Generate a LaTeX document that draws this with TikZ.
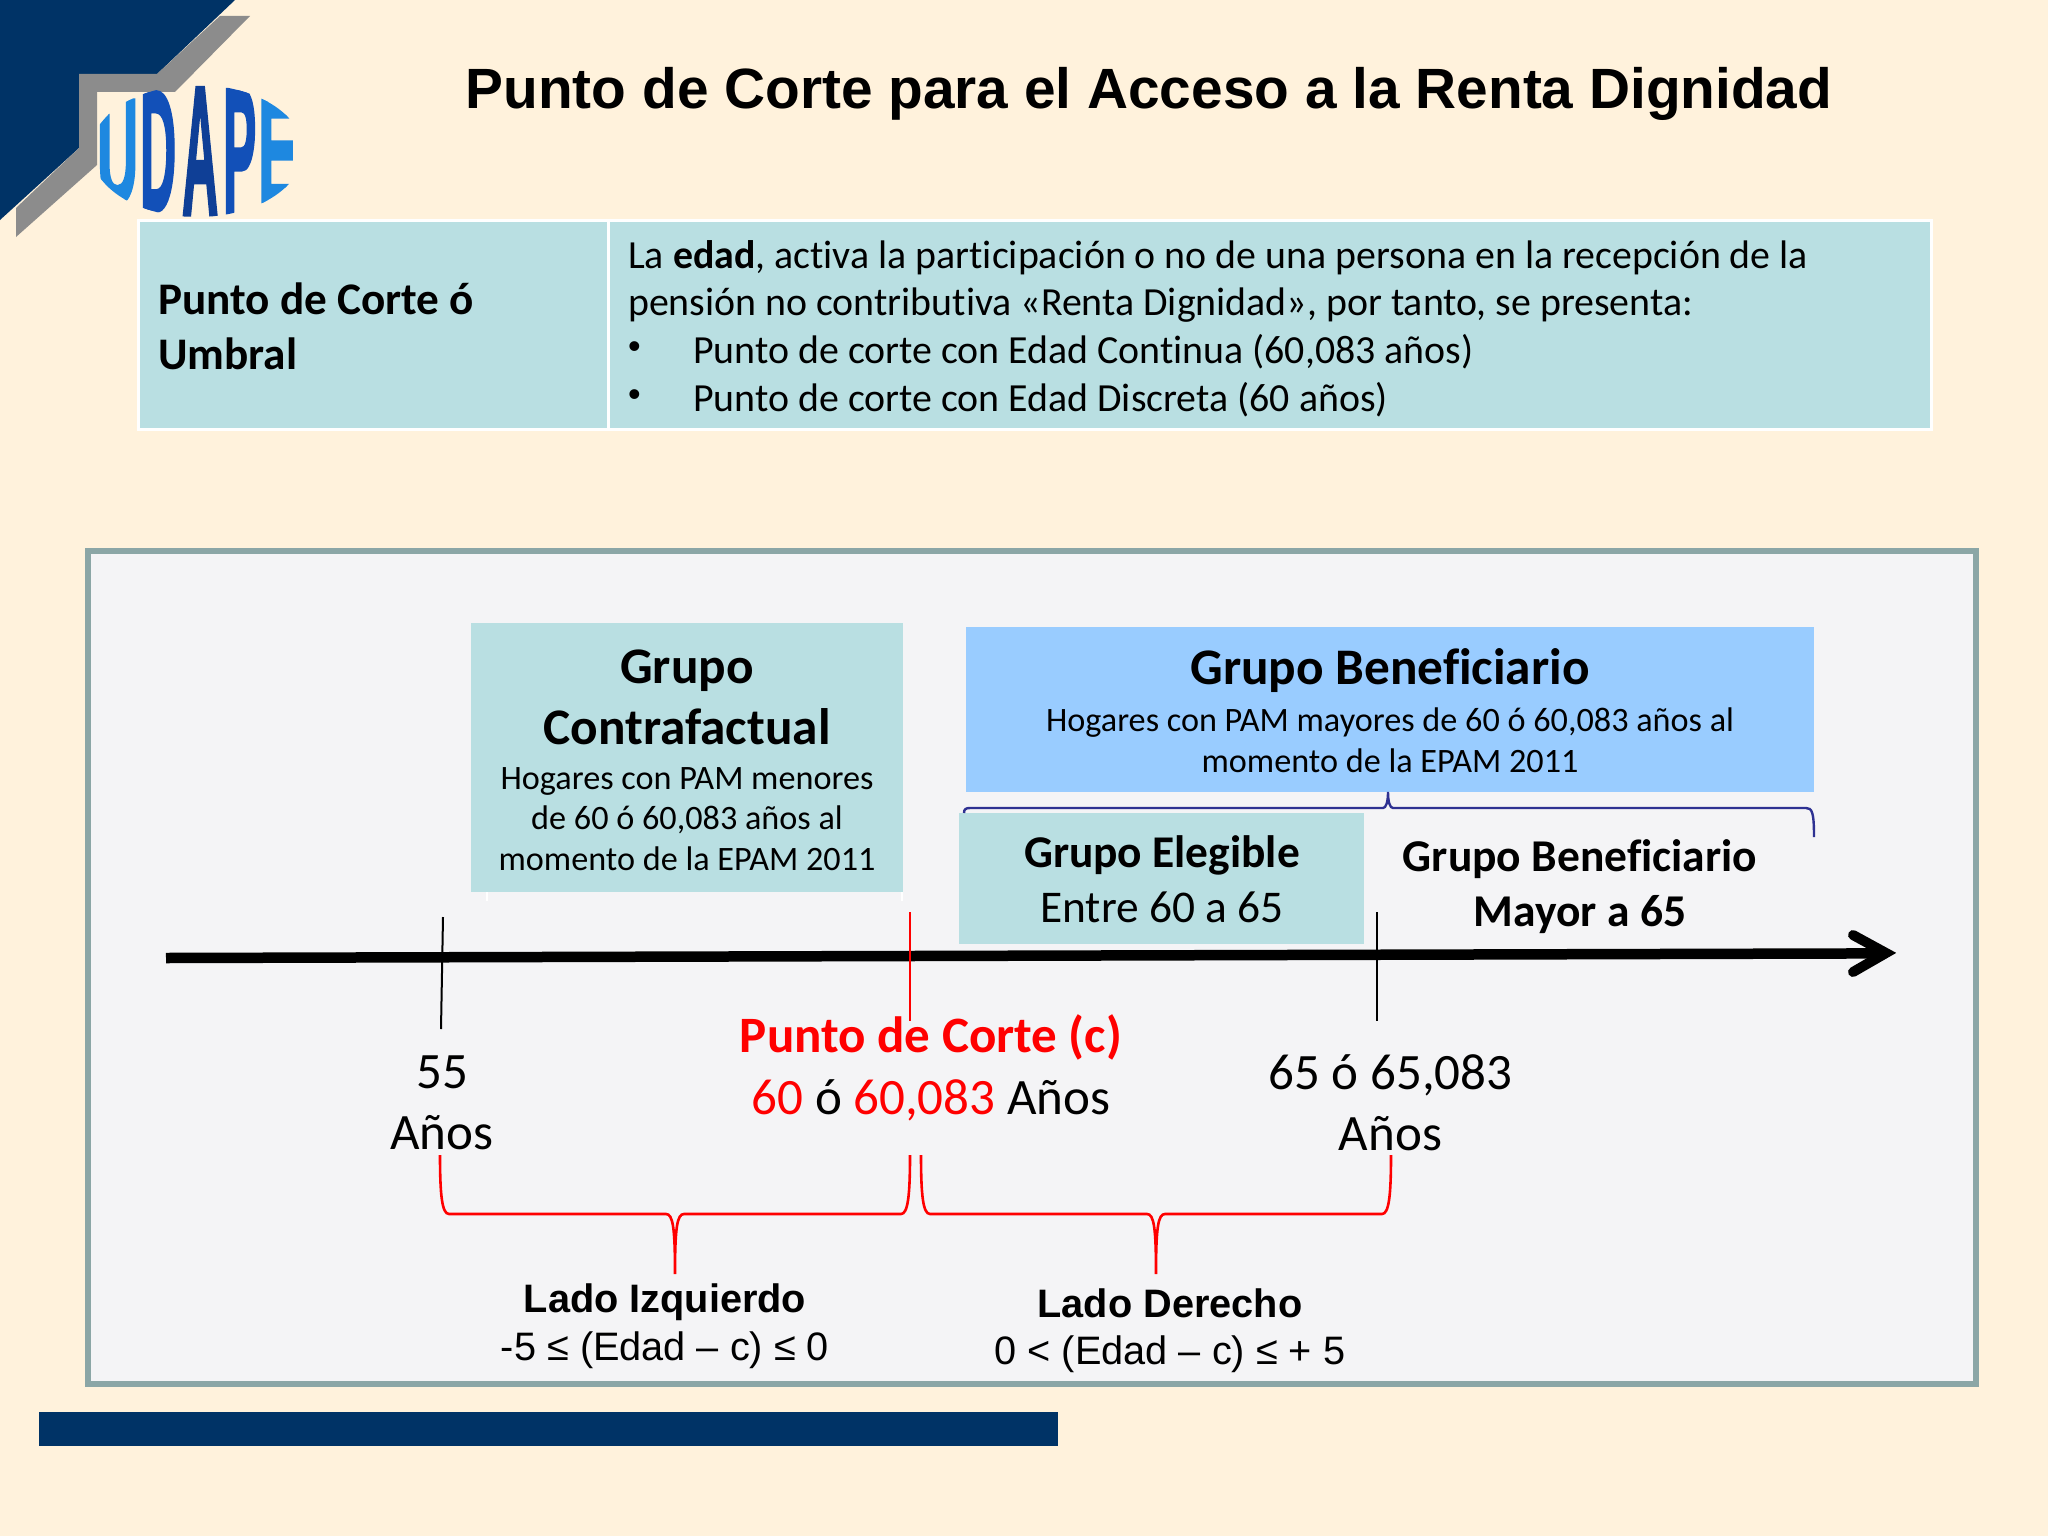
\documentclass[tikz,border=0pt]{standalone}
\usepackage{fontspec}
\usepackage{graphicx}
\setmainfont[RawFeature=-liga]{Carlito}
\newfontfamily\arialf{Liberation Sans}
\newfontfamily\logof[BoldFeatures={FakeBold=2.5}]{Liberation Sans}
\definecolor{bgc}{HTML}{FFF2DC}
\definecolor{navyc}{HTML}{003366}
\definecolor{grayc}{HTML}{8C8C8C}
\definecolor{tealc}{HTML}{B9DFE2}
\definecolor{bluec}{HTML}{99CCFF}
\definecolor{panelc}{HTML}{F4F4F6}
\definecolor{borderc}{HTML}{8BA6A6}
\definecolor{bracec}{HTML}{2E3192}
\definecolor{redc}{HTML}{FF0000}
\definecolor{logoa}{HTML}{1E88E0}
\definecolor{logob}{HTML}{1250B8}
\definecolor{logoc}{HTML}{0F3F96}
\tikzset{
  tealbox/.style={fill=tealc,draw=none,inner sep=0pt},
  cellbox/.style={fill=tealc,draw=white,line width=3pt,inner sep=0pt},
  tick/.style={draw=black,line width=2pt},
  redline/.style={draw=redc,line width=2.6pt},
  blueline/.style={draw=bracec,line width=2.4pt},
  txt/.style={inner sep=0pt,font=\fontsize{39.85}{48}\selectfont,align=left,anchor=west},
  ctr/.style={inner sep=0pt,align=center,anchor=center},
  big/.style={ctr,font=\bfseries\fontsize{51.3}{61}\selectfont},
  sub/.style={ctr,font=\fontsize{34.2}{40.5}\selectfont},
  mid/.style={ctr,font=\fontsize{45.4}{54.5}\selectfont},
  axislab/.style={ctr,font=\fontsize{51}{61.5}\selectfont},
  arial/.style={ctr,font=\arialf\fontsize{39.7}{48}\selectfont},
  logoletter/.style={inner sep=0pt,anchor=north west},
}
\newcommand{\logoL}[6]{\node[logoletter,text=#1] (#6) at (#2,#3) {\resizebox{#4pt}{\dimexpr 302pt-#3pt*2\relax}{\logof\bfseries #5}};}
\begin{document}
\begin{tikzpicture}[x=1pt,y=-1pt]
\useasboundingbox (0,0) rectangle (2048,1536);
\fill[bgc] (0,0) rectangle (2048,1536);
% corner
\fill[navyc] (0,0) -- (235,0) -- (157,74) -- (79,74) -- (79,148) -- (0,220) -- cycle;
\fill[grayc] (220,16) -- (250,16) -- (175,92) -- (97,92) -- (97,165) -- (16,237) -- (16,208) -- (79,148) -- (79,74) -- (157,74) -- cycle;
% logo
\begin{scope}
\clip (197,151) ellipse [x radius=106, y radius=66];
\logoL{logoa}{97}{100}{41}{U}{lu}
\logoL{logob}{140}{92}{36}{D}{ld}
\logoL{logoc}{182}{88}{36}{A}{la}
\logoL{logob}{223}{90}{33}{P}{lp}
\logoL{logoa}{258}{100}{39}{E}{le}
\end{scope}
% title
\node[ctr,font=\arialf\bfseries\fontsize{56.8}{70}\selectfont] (title) at (1149,94) {Punto de Corte para el Acceso a la Renta Dignidad};
% table
\node[cellbox,minimum width=470pt,minimum height=209pt,anchor=north west] (cellL) at (137,219) {};
\node[cellbox,minimum width=1323pt,minimum height=209pt,anchor=north west] (cellR) at (607,219) {};
\node[txt,font=\bfseries\fontsize{45.2}{55}\selectfont] (umbral) at (158,326) {Punto de Corte ó\\Umbral};
\node[txt] (l1) at (628,258) {La \textbf{edad}, activa la participación o no de una persona en la recepción de la};
\node[txt] (l2) at (628,305) {pensión no contributiva «Renta Dignidad», por tanto, se presenta:};
\node[txt,font=\arialf\fontsize{36}{40}\selectfont] (b1) at (628,350) {•};
\node[txt] (l3) at (693,352) {Punto de corte con Edad Continua (60,083 años)};
\node[txt,font=\arialf\fontsize{36}{40}\selectfont] (b2) at (628,398) {•};
\node[txt] (l4) at (693,400) {Punto de corte con Edad Discreta (60 años)};
% panel
\draw[fill=panelc,draw=borderc,line width=5.5pt] (88,551) rectangle (1976,1384);
% bottom bar
\fill[navyc] (39,1412) rectangle (1058,1446);
% boxes
\node[tealbox,minimum width=432pt,minimum height=269pt,anchor=north west] (contra) at (471,623) {};
\draw[white,line width=1.5pt] (487,892) -- (487,901);
\draw[white,line width=1.5pt] (902,892) -- (902,901);
\node[big] (contraT) at (687,697) {Grupo\\Contrafactual};
\node[sub] (contraS) at (687,819) {Hogares con PAM menores\\de 60 ó 60,083 años al\\momento de la EPAM 2011};
\node[fill=bluec,inner sep=0pt,minimum width=848pt,minimum height=165pt,anchor=north west] (benef) at (966,627) {};
\node[big] (benefT) at (1390,671) {Grupo Beneficiario};
\node[sub] (benefS) at (1390,740) {Hogares con PAM mayores de 60 ó 60,083 años al\\momento de la EPAM 2011};
\node[tealbox,minimum width=405pt,minimum height=131pt,anchor=north west] (eleg) at (959,813) {};
\node[mid] (elegT) at (1162,879) {\textbf{Grupo Elegible}\\Entre 60 a 65};
\node[mid,font=\bfseries\fontsize{45.5}{55}\selectfont] (mayor) at (1580,887) {Grupo Beneficiario\\Mayor a 65};
% blue brace
\coordinate (bbL) at (964,813);
\coordinate (bbR) at (1814,837);
\coordinate (bbT) at (1388,792);
\draw[blueline] (bbL) .. controls (964,809) and (966,808) .. (970,808) -- (1383,808) .. controls (1386,808) and (1388,802) .. (bbT) .. controls (1388,802) and (1390,808) .. (1393,808) -- (1806,808) .. controls (1812,808) and (1814,812) .. (bbR);
% axis
\coordinate (axL) at (166,958);
\coordinate (axR) at (1880,953.4);
\draw[black,line width=10.5pt] (axL) -- (axR);
\draw[black,line width=10pt,line cap=round,line join=miter] (1853,935) -- (1886,953) -- (1853,972);
% ticks
\coordinate (t1a) at (443,917); \coordinate (t1b) at (441,1029);
\coordinate (t2a) at (910,912); \coordinate (t2b) at (910,1021);
\coordinate (t3a) at (1377,912); \coordinate (t3b) at (1377,1021);
\draw[tick] (t1a) -- (t1b);
\draw[redline] (t2a) -- (t2b);
\draw[tick] (t3a) -- (t3b);
% axis labels
\node[axislab] (a55) at (442,1103) {55\\Años};
\node[axislab] (a60) at (931,1068) {\textcolor{redc}{\textbf{Punto de Corte (c)}}\\\textcolor{redc}{60} ó \textcolor{redc}{60,083} Años};
\node[axislab] (a65) at (1390.5,1103) {65 ó 65,083\\Años};
% red braces
\coordinate (rA) at (440,1155); \coordinate (rB) at (910,1155); \coordinate (rT1) at (675,1274);
\coordinate (rC) at (921,1155); \coordinate (rD) at (1391,1155); \coordinate (rT2) at (1156,1274);
\draw[redline] (rA) .. controls (440,1195) and (442,1214) .. (449,1214) -- (666,1214) .. controls (673,1214) and (675,1228) .. (rT1) .. controls (675,1228) and (677,1214) .. (684,1214) -- (901,1214) .. controls (908,1214) and (910,1195) .. (rB);
\draw[redline] (rC) .. controls (921,1195) and (923,1214) .. (930,1214) -- (1147,1214) .. controls (1154,1214) and (1156,1228) .. (rT2) .. controls (1156,1228) and (1158,1214) .. (1165,1214) -- (1382,1214) .. controls (1389,1214) and (1391,1195) .. (rD);
% side labels
\node[arial,font=\arialf\bfseries\fontsize{39.7}{48}\selectfont] (ladoI) at (665,1302) {Lado Izquierdo};
\node[arial] (ineqI) at (665,1350) {-5 ≤ (Edad – c) ≤ 0};
\node[arial,font=\arialf\bfseries\fontsize{39.7}{48}\selectfont] (ladoD) at (1170,1303) {Lado Derecho};
\node[arial] (ineqD) at (1170,1354) {0 < (Edad – c) ≤ + 5};
\end{tikzpicture}
\end{document}
